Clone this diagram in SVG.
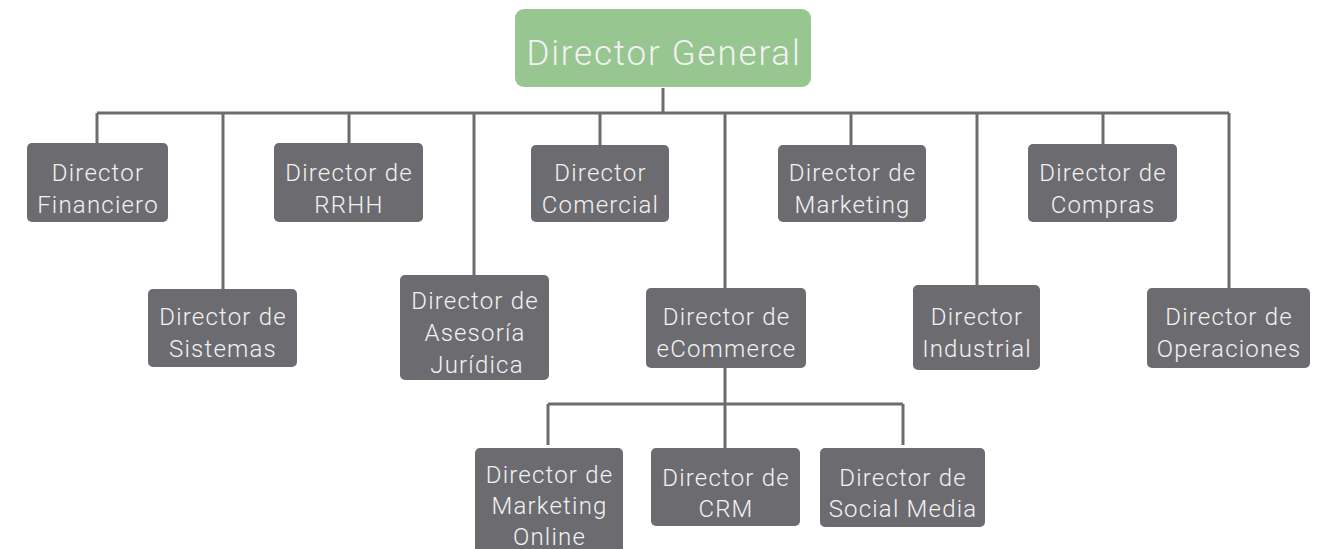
<svg xmlns="http://www.w3.org/2000/svg" width="1319" height="549" viewBox="0 0 1319 549">
  <style>
    .box { fill: #6c6c70; }
    .top { fill: #98c690; }
    .lbl { font-family: Roboto, "Liberation Sans", sans-serif; font-weight: 300; font-size: 24px; fill: #f2f2f2; text-anchor: middle; letter-spacing: 1.2px; }
    .big { font-size: 35px; letter-spacing: 1.8px; }
    .wire { fill: none; stroke: #6c6c70; stroke-width: 3; }
  </style>
  <rect width="1319" height="549" fill="#ffffff"/>

  <!-- connectors -->
  <g id="connectors" class="wire">
    <path d="M663 88 V113"/>
    <path d="M97 113 H1229"/>
    <path d="M97 113 V143"/>
    <path d="M223 113 V289"/>
    <path d="M349 113 V143"/>
    <path d="M474 113 V275"/>
    <path d="M600 113 V145"/>
    <path d="M725 113 V288"/>
    <path d="M851 113 V145"/>
    <path d="M977 113 V285"/>
    <path d="M1103 113 V144"/>
    <path d="M1229 113 V288"/>
    <path d="M725 368 V448"/>
    <path d="M548 404 H903"/>
    <path d="M548 404 V445"/>
    <path d="M903 404 V445"/>
  </g>

  <g id="director-general">
    <rect class="top" x="515" y="9" width="296" height="78" rx="9"/>
    <text class="lbl big" x="664" y="65">Director General</text>
  </g>

  <g id="financiero">
    <rect class="box" x="27" y="143" width="141" height="79" rx="5"/>
    <text class="lbl" x="98" y="181">Director</text>
    <text class="lbl" x="98" y="213">Financiero</text>
  </g>

  <g id="sistemas">
    <rect class="box" x="148" y="289" width="149" height="78" rx="5"/>
    <text class="lbl" x="223" y="325">Director de</text>
    <text class="lbl" x="223" y="357">Sistemas</text>
  </g>

  <g id="rrhh">
    <rect class="box" x="274" y="143" width="149" height="79" rx="5"/>
    <text class="lbl" x="349" y="181">Director de</text>
    <text class="lbl" x="349" y="213">RRHH</text>
  </g>

  <g id="asesoria">
    <rect class="box" x="400" y="275" width="149" height="105" rx="5"/>
    <text class="lbl" x="475" y="309">Director de</text>
    <text class="lbl" x="475" y="341">Asesoría</text>
    <text class="lbl" x="477" y="373">Jurídica</text>
  </g>

  <g id="comercial">
    <rect class="box" x="531" y="145" width="138" height="77" rx="5"/>
    <text class="lbl" x="600.5" y="181">Director</text>
    <text class="lbl" x="600.5" y="213">Comercial</text>
  </g>

  <g id="ecommerce">
    <rect class="box" x="646" y="288" width="160" height="80" rx="5"/>
    <text class="lbl" x="726.5" y="325">Director de</text>
    <text class="lbl" x="726.5" y="357">eCommerce</text>
  </g>

  <g id="marketing">
    <rect class="box" x="778" y="145" width="148" height="77" rx="5"/>
    <text class="lbl" x="852.5" y="181">Director de</text>
    <text class="lbl" x="852.5" y="213">Marketing</text>
  </g>

  <g id="industrial">
    <rect class="box" x="913" y="285" width="127" height="85" rx="5"/>
    <text class="lbl" x="977" y="325">Director</text>
    <text class="lbl" x="977" y="357">Industrial</text>
  </g>

  <g id="compras">
    <rect class="box" x="1028" y="144" width="149" height="78" rx="5"/>
    <text class="lbl" x="1103" y="181">Director de</text>
    <text class="lbl" x="1103" y="213">Compras</text>
  </g>

  <g id="operaciones">
    <rect class="box" x="1147" y="288" width="163" height="80" rx="5"/>
    <text class="lbl" x="1229" y="325">Director de</text>
    <text class="lbl" x="1229" y="357">Operaciones</text>
  </g>

  <g id="marketing-online">
    <rect class="box" x="475" y="448" width="148" height="110" rx="5"/>
    <text class="lbl" x="549.5" y="483">Director de</text>
    <text class="lbl" x="549.5" y="514">Marketing</text>
    <text class="lbl" x="549.5" y="545">Online</text>
  </g>

  <g id="crm">
    <rect class="box" x="651" y="448" width="149" height="78" rx="5"/>
    <text class="lbl" x="726" y="486">Director de</text>
    <text class="lbl" x="726" y="517">CRM</text>
  </g>

  <g id="social-media">
    <rect class="box" x="820" y="448" width="165" height="79" rx="5"/>
    <text class="lbl" x="903" y="486">Director de</text>
    <text class="lbl" x="903" y="517">Social Media</text>
  </g>
</svg>
